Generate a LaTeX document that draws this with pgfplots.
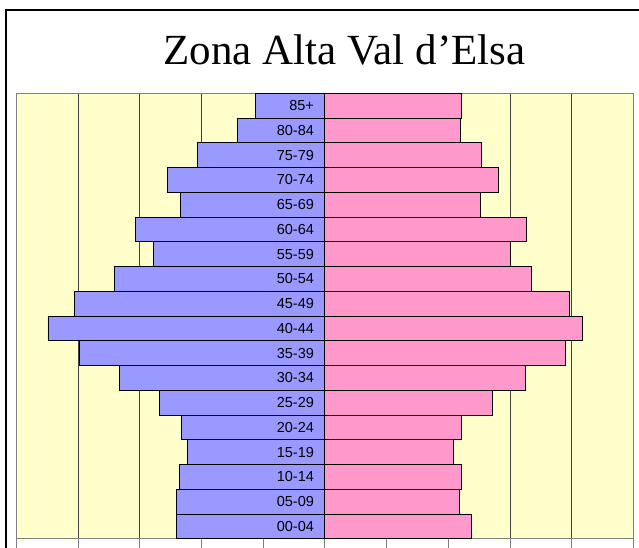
\documentclass[border=0pt]{standalone}
\usepackage{pgfplots}
\pgfplotsset{compat=1.18}
\usepackage{pgfplotstable}
\usepackage{fontspec}
\setmainfont{Liberation Serif}
\newfontfamily\arialfont{Liberation Sans}
\definecolor{maleblue}{HTML}{9999FF}
\definecolor{femalepink}{HTML}{FF99CC}
\definecolor{bgyellow}{HTML}{FFFFCC}
\definecolor{framegray}{HTML}{808080}

\pgfplotstableread{
y male female lx lab
0 -1200 1189 -87 00-04
1 -1200 1091 -87 05-09
2 -1181 1108 -87 10-14
3 -1117 1043 -87 15-19
4 -1160 1108 -87 20-24
5 -1344 1359 -87 25-29
6 -1668 1627 -87 30-34
7 -1992 1949 -87 35-39
8 -2244 2086 -87 40-44
9 -2033 1981 -87 45-49
10 -1706 1675 -87 50-54
11 -1392 1505 -87 55-59
12 -1538 1635 -87 60-64
13 -1168 1262 -87 65-69
14 -1279 1408 -87 70-74
15 -1030 1270 -87 75-79
16 -709 1095 -87 80-84
17 -563 1108 -87 85+
}\pyramid

\begin{document}
\begin{tikzpicture}[x=1pt,y=1pt]
\path[use as bounding box] (0,0) rectangle (639,547);
\draw[line width=1.3pt] (6,-10) -- (6,537) -- (680,537);
\node[anchor=base, font=\fontsize{43}{48}\selectfont, inner sep=0pt] at (344.5,482) {Zona Alta Val d’Elsa};
\begin{axis}[at={(16.4pt,8.3pt)}, anchor=south west, scale only axis,
  width=616.9pt, height=445.4pt,
  xmin=-2500, xmax=2500, ymin=-0.5, ymax=17.5,
  axis background/.style={fill=bgyellow},
  axis line style={framegray, line width=0.8pt},
  xtick={-2500,-2000,...,2500}, xticklabels={},
  ytick=\empty,
  xmajorgrids, grid style={black!75, line width=0.7pt},
  tick align=outside, xtick pos=left,
  xtick style={framegray, line width=0.8pt, /pgfplots/major tick length=12pt},
]
\addplot[xbar, bar width=1, bar shift=0pt, fill=maleblue, draw=black, line width=0.8pt] table[x=male, y=y] {\pyramid};
\addplot[xbar, bar width=1, bar shift=0pt, fill=femalepink, draw=black, line width=0.8pt] table[x=female, y=y] {\pyramid};
\addplot[xbar, bar width=1, bar shift=0pt, draw=none, fill=none,
  point meta=explicit symbolic, nodes near coords,
  nodes near coords style={anchor=east, inner sep=0pt, xshift=0pt, text=black, font=\arialfont\fontsize{14.5}{16}\selectfont}]
  table[x=lx, y=y, meta=lab] {\pyramid};
\end{axis}
\end{tikzpicture}
\end{document}
